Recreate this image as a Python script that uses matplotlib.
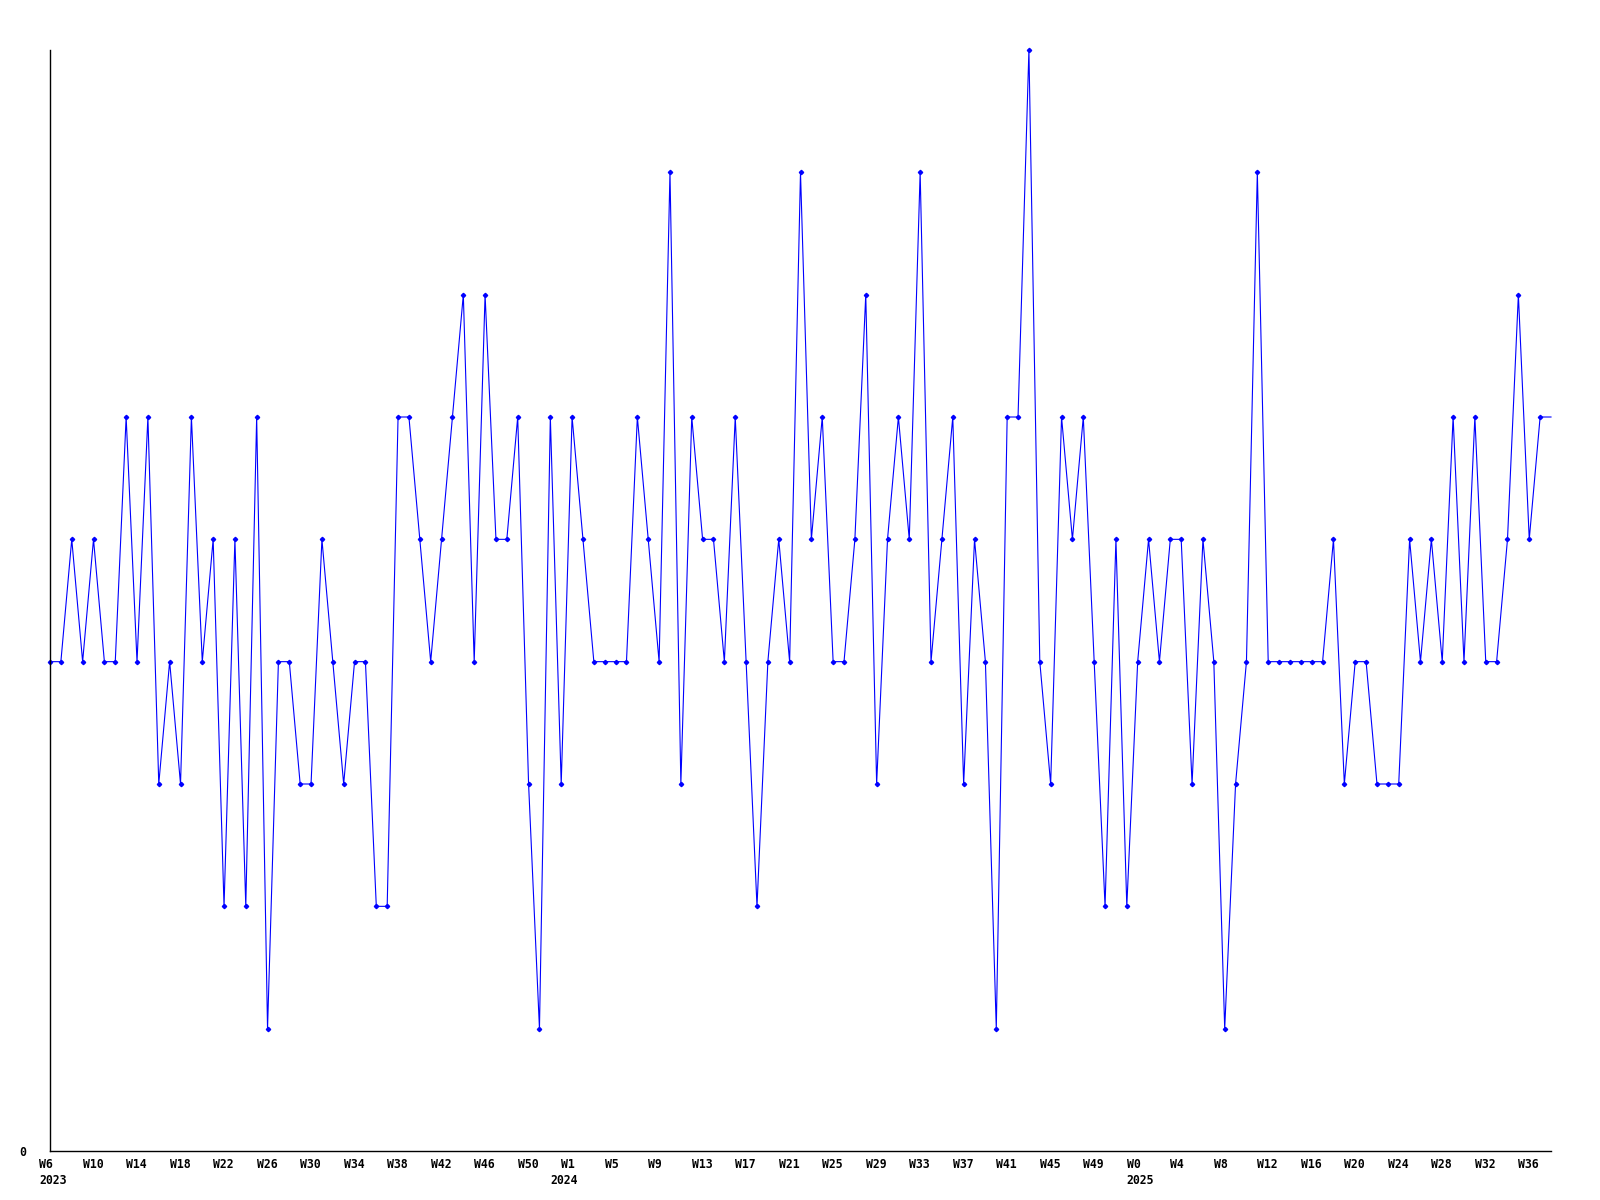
import numpy as np
import matplotlib
matplotlib.use('Agg')
import matplotlib.pyplot as plt
from matplotlib.transforms import offset_copy

# 周数（%W 风格），2023 从 W6 开始，最后一个点只画线
weeks_2023 = list(range(6, 54))
weeks_2024 = list(range(1, 53))
weeks_2025 = list(range(0, 39))

# 每周数值
values = [4, 4, 5, 4, 5, 4, 4, 6, 4, 6,
          3, 4, 3, 6, 4, 5, 2, 5, 2, 6,
          1, 4, 4, 3, 3, 5, 4, 3, 4, 4,
          2, 2, 6, 6, 5, 4, 5, 6, 7, 4,
          7, 5, 5, 6, 3, 1, 6, 3, 6, 5,
          4, 4, 4, 4, 6, 5, 4, 8, 3, 6,
          5, 5, 4, 6, 4, 2, 4, 5, 4, 8,
          5, 6, 4, 4, 5, 7, 3, 5, 6, 5,
          8, 4, 5, 6, 3, 5, 4, 1, 6, 6,
          9, 4, 3, 6, 5, 6, 4, 2, 5, 2,
          4, 5, 4, 5, 5, 3, 5, 4, 1, 3,
          4, 8, 4, 4, 4, 4, 4, 4, 5, 3,
          4, 4, 3, 3, 3, 5, 4, 5, 4, 6,
          4, 6, 4, 4, 5, 7, 5, 6, 6]

# 年份标签及其所在点
year_labels = ['2023', '2024', '2025']
year_label_idx = [0, 47, 100]

weeks = weeks_2023 + weeks_2024 + weeks_2025
x = np.arange(len(values))

fig = plt.figure(figsize=(16, 12), dpi=100)
W, H = 1600, 1200
left, right, top, bottom = 50, 1551, 50, 1151
ax = fig.add_axes([left / W, 1 - bottom / H, (right - left) / W, (bottom - top) / H])

ax.plot(x, values, color='#0000ff', lw=0.8, marker='D', ms=2.2,
        markevery=list(range(len(values) - 1)), clip_on=False)

ax.set_xlim(0, len(values) - 1)
ax.set_ylim(0, 9)

for s in ['top', 'right']:
    ax.spines[s].set_visible(False)
for s in ['left', 'bottom']:
    ax.spines[s].set_linewidth(1.0)
    ax.spines[s].set_color('black')

font = dict(family='DejaVu Sans Mono', weight='bold', size=8.3)

ax.set_xticks([])
ax.set_yticks([0])
ax.set_yticklabels(['0'], **font)
ax.tick_params(axis='y', length=0, pad=17)

# 周标签，每 4 周一个
trans = ax.get_xaxis_transform()
wk_trans = offset_copy(trans, fig=fig, x=-11, y=-14, units='dots')
for i in x[::4]:
    if i >= len(values) - 1:
        continue
    ax.text(i, 0, 'W%d' % weeks[i], transform=wk_trans, ha='left', va='center', **font)

yr_trans = offset_copy(trans, fig=fig, x=-11, y=-30, units='dots')
for i, lab in zip(year_label_idx, year_labels):
    ax.text(i, 0, lab, transform=yr_trans, ha='left', va='center', **font)

fig.savefig('out.png', dpi=100)
